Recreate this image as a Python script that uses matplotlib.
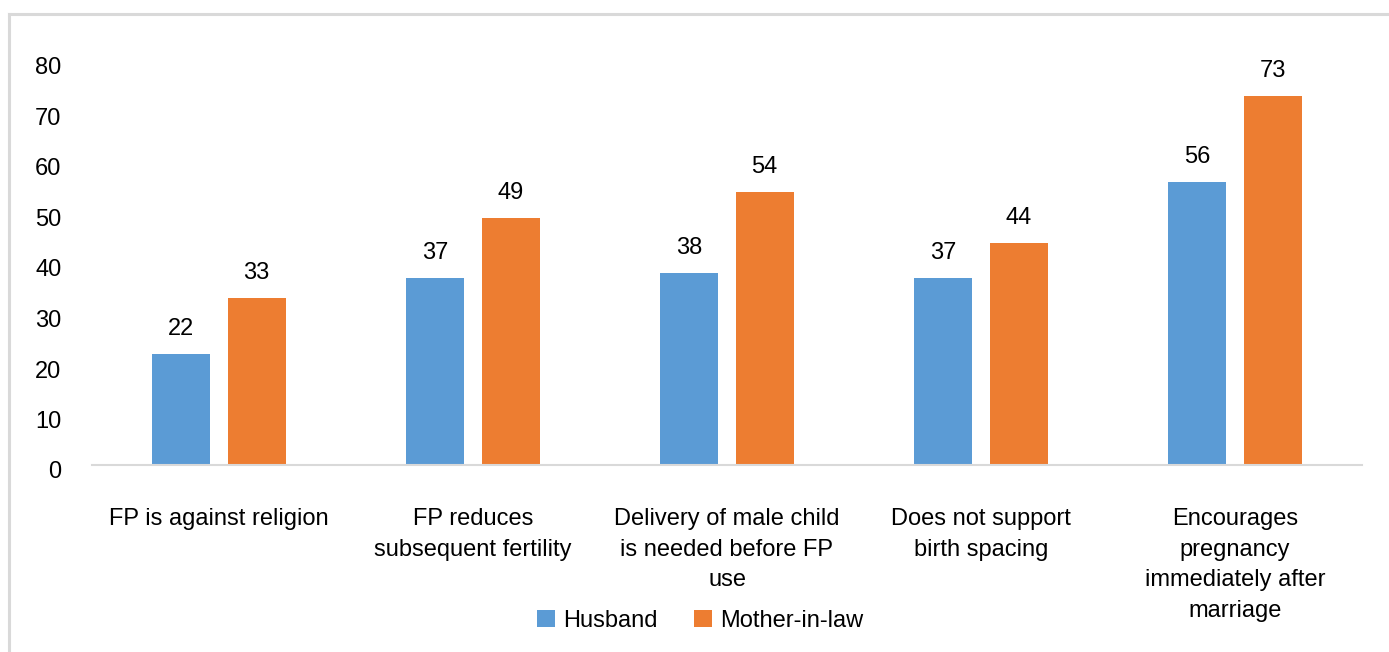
import matplotlib
matplotlib.use("Agg")
import matplotlib.pyplot as plt
import matplotlib.transforms as mtransforms
from matplotlib.lines import Line2D
import numpy as np

categories = ["FP is against religion",
              "FP reduces\nsubsequent fertility",
              "Delivery of male child\nis needed before FP\nuse",
              "Does not support\nbirth spacing",
              "Encourages\npregnancy\nimmediately after\nmarriage"]
husband = [22, 37, 38, 37, 56]
mother_in_law = [33, 49, 54, 44, 73]
yticks = [0, 10, 20, 30, 40, 50, 60, 70, 80]

BLUE = "#5B9BD5"
ORANGE = "#ED7D31"
GRAY = "#D9D9D9"

plt.rcParams['font.family'] = ['Liberation Sans', 'DejaVu Sans']

fig = plt.figure(figsize=(13.89, 6.52), dpi=100)
ax = fig.add_axes([92/1389, 187/652, 1270/1389, 404/652])

x = np.arange(len(categories))
w = 0.228
off = 0.148
b1 = ax.bar(x - off, husband, w, color=BLUE, label="Husband")
b2 = ax.bar(x + off, mother_in_law, w, color=ORANGE, label="Mother-in-law")

for bars, vals in ((b1, husband), (b2, mother_in_law)):
    for r, v in zip(bars, vals):
        ax.annotate(str(v), (r.get_x() + r.get_width()/2, r.get_height()),
                    xytext=(0, 10), textcoords="offset points",
                    ha="center", va="bottom", fontsize=17)

ax.set_xlim(-0.5, len(categories) - 0.5)
ax.set_ylim(0, 80)
ax.set_yticks(yticks)
ax.set_xticks(x)
ax.set_xticklabels(categories, fontsize=17, linespacing=1.5)
ax.tick_params(axis="x", length=0, pad=31)
ax.tick_params(axis="y", length=0, pad=22, labelsize=17)
# labels sit a bit lower than their value
shift = mtransforms.ScaledTranslation(0, -5/100, fig.dpi_scale_trans)
for lab in ax.get_yticklabels():
    lab.set_transform(lab.get_transform() + shift)

for s in ["top", "right", "left"]:
    ax.spines[s].set_visible(False)
ax.spines["bottom"].set_color(GRAY)
ax.spines["bottom"].set_linewidth(1.5)

fig.legend(handles=[b1, b2], loc="center", bbox_to_anchor=(0.504, 0.048),
           ncol=2, frameon=False, fontsize=17, handlelength=0.75,
           handleheight=0.75, handletextpad=0.35, columnspacing=1.55)

# outer frame (only top and left visible in the crop)
fig.add_artist(Line2D([9/1389, 1.0], [1 - 14/652, 1 - 14/652],
                      color=GRAY, lw=2.2, transform=fig.transFigure))
fig.add_artist(Line2D([9/1389, 9/1389], [0.0, 1 - 14/652],
                      color=GRAY, lw=2.2, transform=fig.transFigure))

fig.savefig("out.png", dpi=100)
